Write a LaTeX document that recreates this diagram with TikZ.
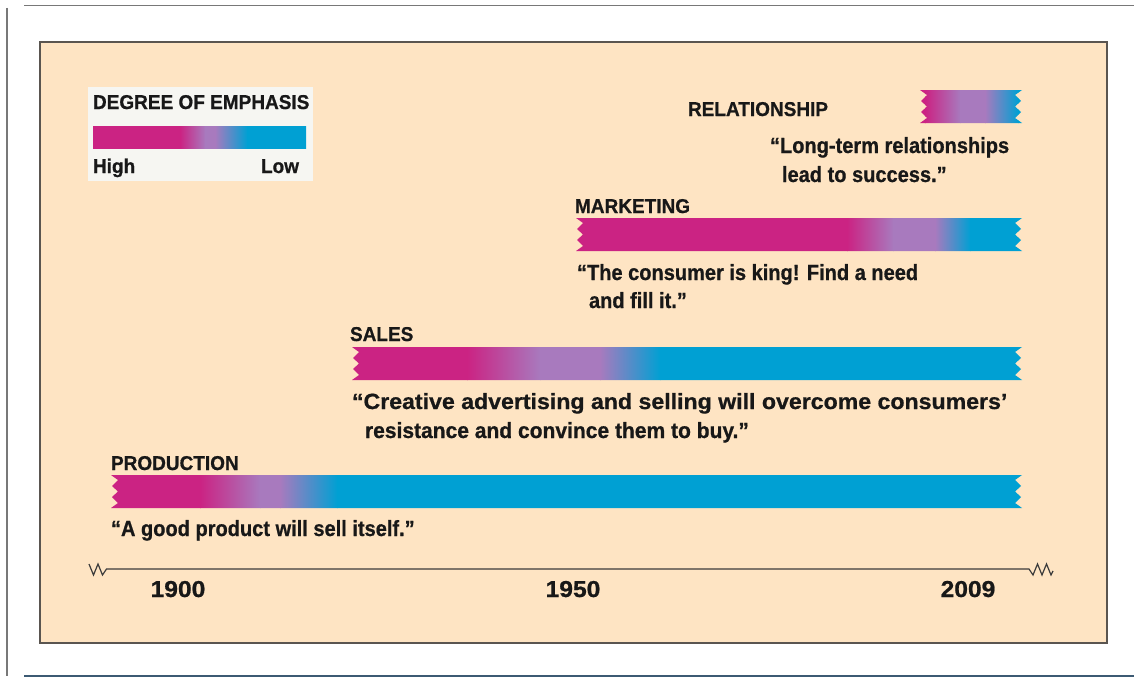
\documentclass[tikz,border=0pt]{standalone}
\usepackage{fontspec}
\setmainfont{Liberation Sans}
\newfontfamily\labfont{Liberation Sans}[FakeStretch=0.95,FakeBold=0.7]
\newfontfamily\quotefont{Liberation Sans}[FakeStretch=0.91,FakeBold=0.7]
\newfontfamily\yearfont{Liberation Sans}[FakeStretch=1.07,FakeBold=0.8]

\definecolor{hi}{RGB}{203,35,131}
\definecolor{mid}{RGB}{168,122,190}
\definecolor{lo}{RGB}{0,160,211}
\definecolor{panel}{RGB}{254,228,195}
\definecolor{panelrule}{RGB}{90,85,80}
\definecolor{legendbg}{RGB}{246,246,242}
\definecolor{ink}{RGB}{24,24,24}
\definecolor{pagerule}{RGB}{120,120,120}
\definecolor{footrule}{RGB}{60,90,115}

% Emphasis gradient: high until #5, fade to mid by #6, mid until #7, low from #8
\newcommand\gradfill[8]{%
  \fill[hi] ({#1-2},{#3-1}) rectangle ({#5+0.5},{#4+1});
  \shade[left color=hi,right color=mid] ({#5},{#3-1}) rectangle ({#6+0.5},{#4+1});
  \fill[mid] ({#6},{#3-1}) rectangle ({#7+0.5},{#4+1});
  \shade[left color=mid,right color=lo] ({#7},{#3-1}) rectangle ({#8+0.5},{#4+1});
  \fill[lo] ({#8},{#3-1}) rectangle ({#2+2},{#4+1});
}
% Ribbon with torn (zigzag) ends: left, right, top, then the four gradient stops
\newcommand\emphband[7]{%
  \begin{scope}
    \clip ({#1},{#3}) -- ({#2},{#3}) -- ({#2-7},{#3+5}) -- ({#2-1},{#3+11})
      -- ({#2-7},{#3+16.5}) -- ({#2-1},{#3+22}) -- ({#2-7},{#3+28}) -- ({#2},{#3+33})
      -- ({#1},{#3+33}) -- ({#1+7},{#3+28}) -- ({#1+1},{#3+22}) -- ({#1+7},{#3+16.5})
      -- ({#1+1},{#3+11}) -- ({#1+7},{#3+5}) -- cycle;
    \gradfill{#1}{#2}{#3}{#3+33}{#4}{#5}{#6}{#7}
  \end{scope}}

\tikzset{
  lab/.style={anchor=base west, inner sep=0pt, outer sep=0pt, text=ink,
    font=\labfont\bfseries\fontsize{20}{24}\selectfont},
  quote/.style={anchor=base west, inner sep=0pt, outer sep=0pt, text=ink,
    font=\quotefont\bfseries\fontsize{22}{26}\selectfont},
  year/.style={anchor=base, inner sep=0pt, outer sep=0pt, text=ink,
    font=\yearfont\bfseries\fontsize{23}{27}\selectfont},
  axis/.style={draw=ink!85, line width=1.2pt, line join=miter},
}

\begin{document}
\begin{tikzpicture}[x=1pt,y=-1pt]
  \useasboundingbox (0,0) rectangle (1134,677);
  \fill[white] (0,0) rectangle (1134,677);

  % page rules
  \draw[pagerule, line width=1.6pt] (24,5.5) -- (1134,5.5);
  \draw[pagerule, line width=1.6pt] (7,8) -- (7,676);
  \draw[footrule, line width=2pt] (24,676) -- (1134,676);

  % panel
  \filldraw[fill=panel, draw=panelrule, line width=1.5pt] (40,42) rectangle (1107,643);

  % legend
  \fill[legendbg] (88,87) rectangle (313,181);
  \begin{scope}
    \clip (93,126) rectangle (306,148);
    \gradfill{93}{306}{126}{148}{180}{205}{215}{247}
  \end{scope}
  \node[lab] (legtitle) at (93,109) {DEGREE OF EMPHASIS};
  \node[lab] (leghigh) at (93,173) {High};
  \node[lab, anchor=base east] (leglow) at (299,173) {Low};

  % eras
  \emphband{920}{1022}{90}{925}{960}{985}{1018}
  \node[lab] (relation) at (688,116) {RELATIONSHIP};
  \node[quote] (relq1) at (770,153) {“Long-term relationships};
  \node[quote] (relq2) at (782,182) {lead to success.”};

  \emphband{576}{1022}{218}{847}{893}{935}{970}
  \node[lab] (market) at (575,213) {MARKETING};
  \node[quote] (mktq1) at (577,280) {“The consumer is king! Find a need};
  \node[quote] (mktq2) at (589,308) {and fill it.”};

  \emphband{352}{1022}{347}{467}{540}{600}{660}
  \node[lab] (sales) at (350,341) {SALES};
  \node[quote] (salq1) at (352,409) {\scalebox{1.155}[1]{“Creative advertising and selling will overcome consumers’}};
  \node[quote] (salq2) at (365,438) {\scalebox{1.05}[1]{resistance and convince them to buy.”}};

  \emphband{111}{1022}{475}{200}{260}{280}{337}
  \node[lab] (prod) at (111,470) {PRODUCTION};
  \node[quote] (prodq) at (111,536) {“A good product will sell itself.”};

  % time axis with break marks
  \coordinate (axl) at (111,569);
  \coordinate (axr) at (1029,569);
  \draw[axis] (89,564) -- (93.5,575) -- (98,564) -- (102.5,575) -- (106.5,569) -- (axl)
    -- (axr) -- (1033,575) -- (1037.5,564) -- (1042,575) -- (1046.5,564) -- (1051,575) -- (1053,571);
  \node[year] (y1900) at (178,597) {1900};
  \node[year] (y1950) at (573,597) {1950};
  \node[year] (y2009) at (968,597) {2009};
\end{tikzpicture}
\end{document}
